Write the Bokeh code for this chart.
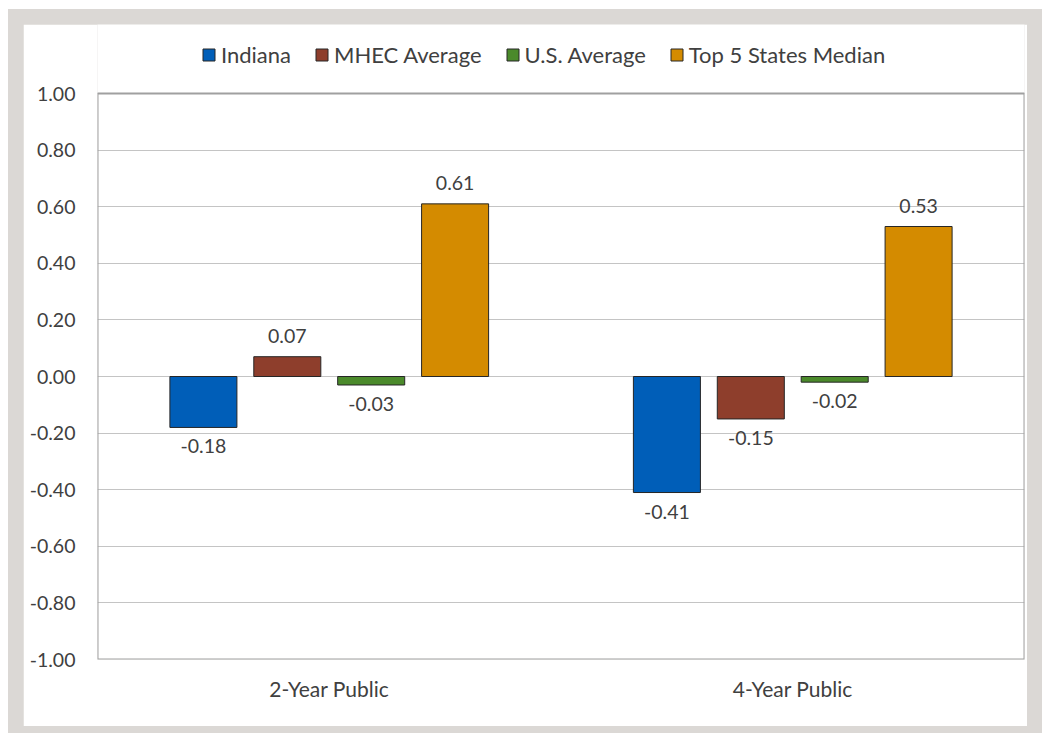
from bokeh.plotting import figure
from bokeh.models import (ColumnDataSource, FactorRange, Range1d, FixedTicker,
                          NumeralTickFormatter, Legend, LegendItem, BoxAnnotation)
from bokeh.transform import dodge
from bokeh.layouts import column
from bokeh.core.properties import value
from bokeh.embed import file_html
from bokeh.resources import INLINE

categories = ["2-Year Public", "4-Year Public"]
series = ["Indiana", "MHEC Average", "U.S. Average", "Top 5 States Median"]
indiana = [-0.18, -0.41]
mhec = [0.07, -0.15]
us_avg = [-0.03, -0.02]
top5 = [0.61, 0.53]
y_ticks = [-1.0, -0.8, -0.6, -0.4, -0.2, 0.0, 0.2, 0.4, 0.6, 0.8, 1.0]

y_min, y_max = -1.0, 1.0
colors = ["#005EB8", "#8E3E2C", "#4B8A2B", "#D48B00"]
offsets = [-0.2715, -0.0905, 0.0905, 0.2715]
bar_w = 0.1446
FONT = "Lato"
TXT = "#404040"

# frame extends above the value axis to host the legend (69 px of 283 px per unit)
headroom = 69.0 / 283.0
p = figure(x_range=FactorRange(*categories, range_padding=0),
           y_range=Range1d(y_min, y_max + headroom),
           width=1004, height=702, output_backend="svg", toolbar_location=None,
           min_border_left=74, min_border_right=3, min_border_top=0, min_border_bottom=67)
p.border_fill_color = "white"
p.background_fill_color = "white"
p.outline_line_color = None

values = [indiana, mhec, us_avg, top5]
renderers = []
for name, vals, col, off in zip(series, values, colors, offsets):
    src = ColumnDataSource(dict(
        cat=categories, val=vals,
        lbl=["%.2f" % v for v in vals],
        base=["bottom" if v >= 0 else "top" for v in vals],
        yoff=[-14 if v >= 0 else 12 for v in vals],
    ))
    r = p.vbar(x=dodge("cat", off, range=p.x_range), top="val", bottom=0, width=bar_w,
               source=src, fill_color=col, line_color="#262626", line_width=1)
    renderers.append((name, r))
    p.text(x=dodge("cat", off, range=p.x_range), y="val", text="lbl", source=src,
           text_align="center", text_baseline="base", y_offset="yoff",
           text_font=value(FONT), text_font_size="19.5px", text_color=TXT)

# plot-area box from the value range
p.add_layout(BoxAnnotation(left=0, right=len(categories), bottom=y_min, top=y_max,
                           fill_alpha=0, line_color="#A0A0A0", line_alpha=1.0,
                           line_width=2, level="overlay"))

legend = Legend(items=[LegendItem(label=n, renderers=[r]) for n, r in renderers],
                orientation="horizontal", location=(104, 591))
legend.label_text_font = FONT
legend.label_text_font_size = "22px"
legend.label_text_color = TXT
legend.glyph_width = 15
legend.glyph_height = 15
legend.label_standoff = 5
legend.spacing = 23
legend.padding = 0
legend.margin = 0
legend.border_line_color = None
legend.background_fill_alpha = 0
p.add_layout(legend)

p.xgrid.grid_line_color = None
p.ygrid.grid_line_color = "#C4C4C4"
p.ygrid.grid_line_width = 1
p.ygrid.ticker = FixedTicker(ticks=y_ticks)

p.yaxis.ticker = FixedTicker(ticks=y_ticks)
p.yaxis.formatter = NumeralTickFormatter(format="0.00")
for ax in (p.xaxis, p.yaxis):
    ax.axis_line_color = None
    ax.major_tick_line_color = None
    ax.minor_tick_line_color = None
    ax.major_label_text_font = FONT
    ax.major_label_text_color = TXT
p.yaxis.major_label_text_font_size = "19.5px"
p.xaxis.major_label_text_font_size = "21px"
p.yaxis.major_label_standoff = 16
p.xaxis.major_label_standoff = 10

inner = column(p, styles={"background-color": "#DBD8D5", "padding": "15px 15px 7px 15px"})
lay = column(inner, styles={"padding": "9px 0px 0px 8px", "background-color": "white"})

open("out.html", "w").write(file_html(lay, INLINE))
